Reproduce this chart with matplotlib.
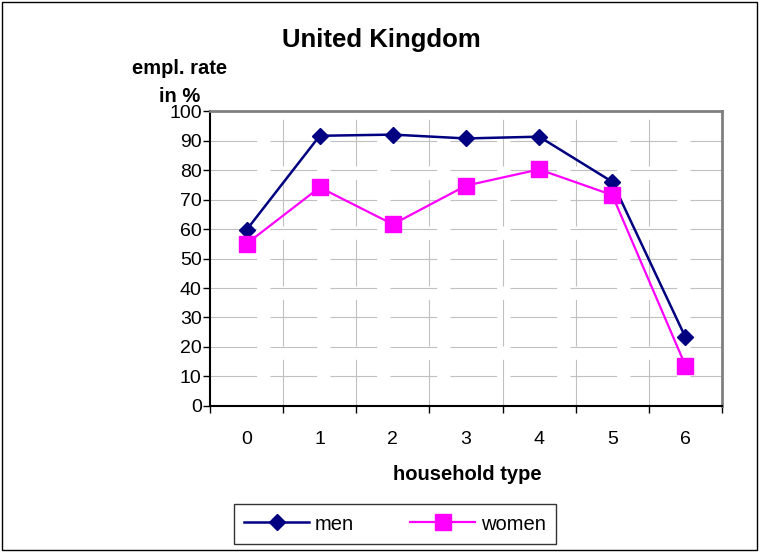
import matplotlib
matplotlib.use("Agg")
import matplotlib.pyplot as plt
from matplotlib.patches import Rectangle
from matplotlib.ticker import FixedLocator, MultipleLocator

plt.rcParams['font.family'] = ['Liberation Sans', 'DejaVu Sans']

categories = ["0", "1", "2", "3", "4", "5", "6"]
men = [59.7, 91.6, 92.0, 90.7, 91.3, 76.0, 23.3]
women = [55.0, 74.1, 61.6, 74.7, 80.2, 71.5, 13.7]

title = "United Kingdom"
y_label_lines = ["empl. rate", "in %"]
x_label = "household type"

fig = plt.figure(figsize=(7.6, 5.52), dpi=100)
ax = fig.add_axes([0.2763, 0.2645, 0.95 - 0.2763, 0.7989 - 0.2645])

x = list(range(len(categories)))
ax.plot(x, men, color="#000080", lw=1.8, marker="D", markersize=8.5,
        markerfacecolor="#000080", markeredgecolor="#000080", label="men", zorder=3)
ax.plot(x, women, color="#FF00FF", lw=1.6, marker="s", markersize=11,
        markerfacecolor="#FF00FF", markeredgecolor="#FF00FF", label="women", zorder=3)

ax.set_xlim(-0.5, len(categories) - 0.5)
ax.set_ylim(0, 100)

# category labels at centres, tick marks and vertical grid at boundaries
ax.set_xticks(x)
ax.set_xticklabels(categories, fontsize=14)
ax.xaxis.set_minor_locator(FixedLocator([i - 0.5 for i in range(len(categories) + 1)]))
ax.tick_params(axis="x", which="major", length=0, pad=18)
ax.tick_params(axis="x", which="minor", length=5, width=1, direction="out")
ax.yaxis.set_major_locator(MultipleLocator(10))
ax.tick_params(axis="y", which="major", length=5, width=1, direction="out",
               labelsize=14, pad=1)

grid_style = dict(color="#C0C0C0", lw=0.8, linestyle=(0, (42, 12)))
ax.grid(False)
for yv in range(10, 100, 10):
    ax.axhline(yv, zorder=1, **grid_style)
for xv in [i + 0.5 for i in range(len(categories) - 1)]:
    ax.axvline(xv, zorder=1, **grid_style)

for side in ("left", "bottom"):
    ax.spines[side].set_color("black")
    ax.spines[side].set_linewidth(1.5)
for side in ("top", "right"):
    ax.spines[side].set_color("#808080")
    ax.spines[side].set_linewidth(2)

fig.text(381 / 760, 1 - 40 / 552, title, ha="center", va="center",
         fontsize=18.5, fontweight="bold")
fig.text(180 / 760, 1 - 69 / 552, y_label_lines[0], ha="center", va="center",
         fontsize=14.5, fontweight="bold")
fig.text(180 / 760, 1 - 96 / 552, y_label_lines[1], ha="center", va="center",
         fontsize=14.5, fontweight="bold")
fig.text(467 / 760, 1 - 475 / 552, x_label, ha="center", va="center",
         fontsize=14.5, fontweight="bold")

leg = fig.legend(loc="center", bbox_to_anchor=(395 / 760, 1 - 524 / 552),
                 ncol=2, fontsize=14.5, frameon=True, fancybox=False,
                 edgecolor="black", handlelength=3.2, columnspacing=2.8,
                 borderpad=0.5, handletextpad=0.3, borderaxespad=0)
leg.get_frame().set_linewidth(1)

# outer chart border
fig.patches.append(Rectangle((0.002, 0.004), 0.994, 0.993, transform=fig.transFigure,
                             fill=False, edgecolor="black", lw=1))

fig.savefig("out.png", dpi=100)
